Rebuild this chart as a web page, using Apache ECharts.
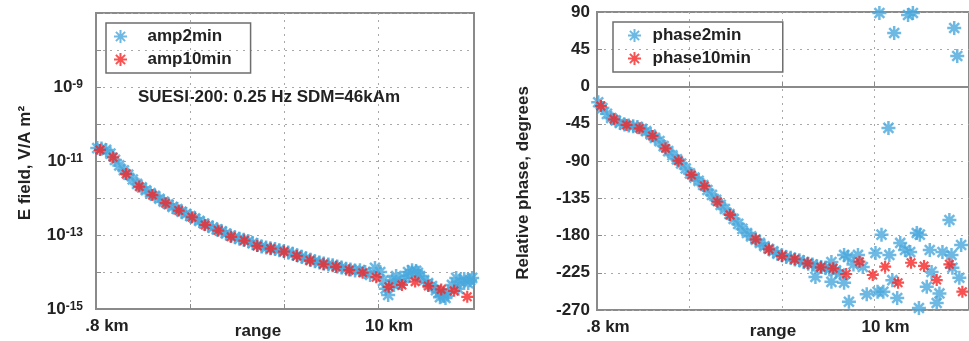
<!DOCTYPE html>
<html>
<head>
<meta charset="utf-8">
<script src="https://cdn.jsdelivr.net/npm/echarts@6/dist/echarts.min.js"></script>
<style>
  html, body { margin: 0; padding: 0; background: #fff; }
  #chart { width: 969px; height: 341px; }
</style>
</head>
<body>
<div id="chart"></div>
<script>
// range (km) of the 10 minute stacks, same for both panels
const range10min = [0.93, 1.36, 1.78, 2.21, 2.64, 3.07, 3.50, 3.93, 4.36, 4.79, 5.21, 5.64, 6.06, 6.50, 6.93,
  7.35, 7.78, 8.22, 8.63, 9.06, 9.50, 9.94, 10.35, 10.78, 11.21, 11.64, 12.06, 12.48, 12.91];
// log10 of E field amplitude, V/A m^2
const amp10minLog = [-10.70, -10.90, -11.35, -11.69, -11.92, -12.14, -12.34, -12.52, -12.73, -12.88, -13.05,
  -13.15, -13.30, -13.37, -13.45, -13.57, -13.69, -13.79, -13.86, -13.95, -14.02, -14.14, -14.40, -14.35,
  -14.26, -14.38, -14.47, -14.51, -14.67];
// relative phase, degrees (one point hidden in the picture)
const phase10min = [-23.6, -39.6, -46.5, -50.5, -59.8, -74.7, -89.6, -106.9, -120.2, -139.2, -155.2, null,
  -184.6, -196.7, -204.8, -208.7, -213.6, -218.4, -219.6, -226.5, -211.6, -227.7, -217.7, -237.0, -212.9,
  -216.8, -233.8, -214.8, -247.9];

// 2 minute stacks, amplitude panel
const range2minAmp = [0.84, 0.98, 1.13, 1.27, 1.42, 1.56, 1.71, 1.85, 2.00, 2.14, 2.29, 2.43, 2.58, 2.72, 2.87,
  3.01, 3.16, 3.30, 3.45, 3.59, 3.74, 3.88, 4.03, 4.17, 4.32, 4.46, 4.61, 4.75, 4.90, 5.04, 5.19, 5.33, 5.48,
  5.62, 5.77, 5.91, 6.06, 6.20, 6.35, 6.49, 6.64, 6.78, 6.93, 7.07, 7.22, 7.36, 7.51, 7.65, 7.80, 7.94, 8.09,
  8.23, 8.38, 8.52, 8.67, 8.81, 8.96, 9.10, 9.25,
  9.41, 9.58, 9.74, 9.90, 10.07, 10.16, 10.33, 10.46, 10.59, 10.72, 10.85, 10.98, 11.11, 11.24, 11.37, 11.50,
  11.63, 11.76, 11.89, 12.02, 12.15, 12.28, 12.41, 12.55, 12.68, 12.81, 12.94, 13.07,
  10.25, 10.52, 11.02, 11.30, 12.00, 12.20, 12.62, 13.00];
const amp2minLog = [-10.65, -10.66, -10.70, -10.80, -10.97, -11.12, -11.25, -11.37, -11.50, -11.62, -11.71,
  -11.79, -11.87, -11.94, -12.02, -12.10, -12.17, -12.24, -12.30, -12.37, -12.43, -12.49, -12.55, -12.62,
  -12.69, -12.75, -12.80, -12.85, -12.90, -12.96, -13.02, -13.06, -13.10, -13.13, -13.17, -13.22, -13.27,
  -13.31, -13.34, -13.36, -13.38, -13.41, -13.44, -13.47, -13.51, -13.55, -13.59, -13.63, -13.67, -13.71,
  -13.74, -13.77, -13.80, -13.82, -13.85, -13.88, -13.91, -13.93, -13.96,
  -13.95, -14.00, -14.08, -13.89, -14.00, -14.24, -14.62, -14.22, -14.11, -14.30, -14.16, -14.00, -13.95,
  -13.97, -14.11, -14.22, -14.30, -14.38, -14.49, -14.68, -14.65, -14.54, -14.35, -14.16, -14.27, -14.19,
  -14.30, -14.16,
  -14.45, -14.35, -14.10, -14.02, -14.55, -14.70, -14.45, -14.22];

// 2 minute stacks, phase panel
const range2minPhase = [0.84, 0.98, 1.13, 1.27, 1.42, 1.56, 1.71, 1.85, 2.00, 2.14, 2.29, 2.43, 2.58, 2.72,
  2.87, 3.01, 3.16, 3.30, 3.45, 3.59, 3.74, 3.88, 4.03, 4.17, 4.32, 4.46, 4.61, 4.75, 4.90, 5.04, 5.19, 5.33,
  5.48, 5.62, 5.77, 5.91, 6.06, 6.20, 6.35, 6.49, 6.64, 6.78, 6.93, 7.07, 7.22, 7.36, 7.51, 7.65, 7.80, 7.94,
  8.09, 8.23, 8.38,
  8.04, 8.50, 8.57, 8.57, 8.72, 8.85, 8.99, 8.99, 9.12, 9.15, 9.30, 9.45, 9.61, 9.74, 10.03, 10.10, 10.16,
  10.23, 10.29, 10.49, 10.46, 10.59, 10.65, 10.75, 10.85, 11.01, 11.11, 11.18, 11.27, 11.40, 11.50, 11.47,
  11.73, 11.83, 11.89, 12.06, 12.15, 12.25, 12.48, 12.55, 12.58, 12.64, 12.74, 12.81, 12.87];
const phase2min = [-19, -26, -33, -38, -41, -44, -46, -47, -48, -49, -51, -54, -58, -62, -66, -72, -78, -83,
  -88, -93, -99, -105, -110, -114, -119, -125, -131, -137, -143, -148, -154, -160, -166, -172, -177, -181,
  -185, -189, -193, -196, -199, -202, -204, -206, -207, -209, -210, -212, -214, -215, -217, -218, -219,
  -230, -221, -212, -236, -222, -226, -237, -203.5, -206, -260, -215, -203.5, -218, -251, -201, -248, 88.8,
  -179, -248, -203.5, -50, -234, 64.6, -255.5, -189, -197.5, 86.4, -200, 88.8, -177, -179, -267.6,
  -242, -197.5, -224, -261.5, -250, -200, -161.3, -203.5, -219, 70.7, 36.8, -231, -191.5];

// axis ticks
const xTickValues = [0.8, 3.867, 6.933, 10];
const xLabelValues = [0.8, 10];
const ampLabelExps = [-15, -13, -11, -9];

const FONT = 'Liberation Sans';
const BLUE = '#48a8dc';
const RED = '#f52525';
const FRAME = '#8a8a8a';
const STAR = 'path://M6,0V12M0,6H12M1.76,1.76L10.24,10.24M1.76,10.24L10.24,1.76';

const pairs = (xs, ys) => xs.map((x, i) => [x, ys[i]]).filter((p) => p[1] != null);

const txt = { fontFamily: FONT, fontSize: 17, fontWeight: 'bold', color: '#222' };

function xAxisOpt(gridIndex) {
  return {
    type: 'value',
    gridIndex,
    min: 0.8,
    max: 13.13,
    axisLine: { show: true, lineStyle: { color: FRAME, width: 2 } },
    axisTick: { show: true, inside: true, length: 5, customValues: xTickValues, lineStyle: { color: FRAME } },
    axisLabel: {
      ...txt,
      customValues: xLabelValues,
      margin: 9,
      padding: [0, 0, 0, 22],
      formatter: (v) => (v < 1 ? '.8 km' : v + ' km'),
    },
    splitLine: { show: true, lineStyle: { color: '#a8a8a8', type: [2, 5], width: 1 } },
  };
}

const myChart = echarts.init(document.getElementById('chart'));
const option = {
  backgroundColor: '#fff',
  animation: false,
  grid: [
    { left: 96, top: 13, right: 495, bottom: 32, show: true, borderColor: FRAME, borderWidth: 2 },
    { left: 597, top: 12, right: -6, bottom: 31, show: true, borderColor: FRAME, borderWidth: 2 },
  ],
  xAxis: [xAxisOpt(0), xAxisOpt(1)],
  yAxis: [
    {
      type: 'value',
      gridIndex: 0,
      min: -15,
      max: -7,
      interval: 1,
      axisLine: { show: true, lineStyle: { color: FRAME, width: 2 } },
      axisTick: { show: true, inside: true, length: 5, lineStyle: { color: FRAME } },
      axisLabel: {
        margin: 13,
        formatter: (v) => (ampLabelExps.includes(v) ? '{b|10}{s|' + v + '}' : ''),
        rich: {
          b: { ...txt },
          s: { fontFamily: FONT, fontSize: 12, fontWeight: 'bold', color: '#222', verticalAlign: 'top' },
        },
      },
      splitLine: { show: true, lineStyle: { color: '#a8a8a8', type: [2, 5], width: 1 } },
    },
    {
      type: 'value',
      gridIndex: 1,
      min: -270,
      max: 90,
      interval: 45,
      axisLine: { show: true, lineStyle: { color: FRAME, width: 2 } },
      axisTick: { show: true, inside: true, length: 5, lineStyle: { color: FRAME } },
      axisLabel: { ...txt, margin: 7 },
      splitLine: { show: true, lineStyle: { color: '#a8a8a8', type: [2, 5], width: 1 } },
    },
  ],
  legend: [
    {
      data: ['amp2min', 'amp10min'],
      orient: 'vertical',
      left: 106,
      top: 23,
      itemWidth: 44,
      itemHeight: 13,
      itemGap: 6,
      padding: [5, 19, 5, 7],
      borderColor: '#6e6e6e',
      borderWidth: 1.5,
      borderRadius: 0,
      textStyle: { ...txt },
    },
    {
      data: ['phase2min', 'phase10min'],
      orient: 'vertical',
      left: 613,
      top: 22,
      itemWidth: 26,
      itemHeight: 13,
      itemGap: 6,
      padding: [5, 32, 5, 14],
      borderColor: '#6e6e6e',
      borderWidth: 1.5,
      borderRadius: 0,
      textStyle: { ...txt },
    },
  ],
  graphic: [
    {
      type: 'text', x: 269, y: 97,
      style: { text: 'SUESI-200: 0.25 Hz SDM=46kAm', font: 'bold 17px "Liberation Sans"', fill: '#222',
        textAlign: 'center', textVerticalAlign: 'middle' },
    },
    {
      type: 'text', x: 25, y: 163, rotation: Math.PI / 2,
      style: { text: 'E field, V/A m²', font: 'bold 17px "Liberation Sans"', fill: '#222',
        textAlign: 'center', textVerticalAlign: 'middle' },
    },
    {
      type: 'text', x: 523, y: 183, rotation: Math.PI / 2,
      style: { text: 'Relative phase, degrees', font: 'bold 17px "Liberation Sans"', fill: '#222',
        textAlign: 'center', textVerticalAlign: 'middle' },
    },
    {
      type: 'text', x: 258, y: 331,
      style: { text: 'range', font: 'bold 17px "Liberation Sans"', fill: '#222',
        textAlign: 'center', textVerticalAlign: 'middle' },
    },
    {
      type: 'text', x: 773, y: 331,
      style: { text: 'range', font: 'bold 17px "Liberation Sans"', fill: '#222',
        textAlign: 'center', textVerticalAlign: 'middle' },
    },
  ],
  series: [
    {
      name: 'amp2min', type: 'scatter', xAxisIndex: 0, yAxisIndex: 0,
      data: pairs(range2minAmp, amp2minLog),
      symbol: STAR, symbolSize: 14, z: 2, silent: true,
      itemStyle: { color: BLUE, borderColor: BLUE, borderWidth: 2.5 },
    },
    {
      name: 'amp10min', type: 'scatter', xAxisIndex: 0, yAxisIndex: 0,
      data: pairs(range10min, amp10minLog),
      symbol: STAR, symbolSize: 12, z: 3, silent: true,
      itemStyle: { color: RED, borderColor: RED, borderWidth: 2.2 },
    },
    {
      name: 'phase2min', type: 'scatter', xAxisIndex: 1, yAxisIndex: 1,
      data: pairs(range2minPhase, phase2min),
      symbol: STAR, symbolSize: 14, z: 2, silent: true,
      itemStyle: { color: BLUE, borderColor: BLUE, borderWidth: 2.5 },
    },
    {
      name: 'phase10min', type: 'scatter', xAxisIndex: 1, yAxisIndex: 1,
      data: pairs(range10min, phase10min),
      symbol: STAR, symbolSize: 12, z: 3, silent: true,
      itemStyle: { color: RED, borderColor: RED, borderWidth: 2.2 },
    },
  ],
};
myChart.setOption(option);
</script>
</body>
</html>
